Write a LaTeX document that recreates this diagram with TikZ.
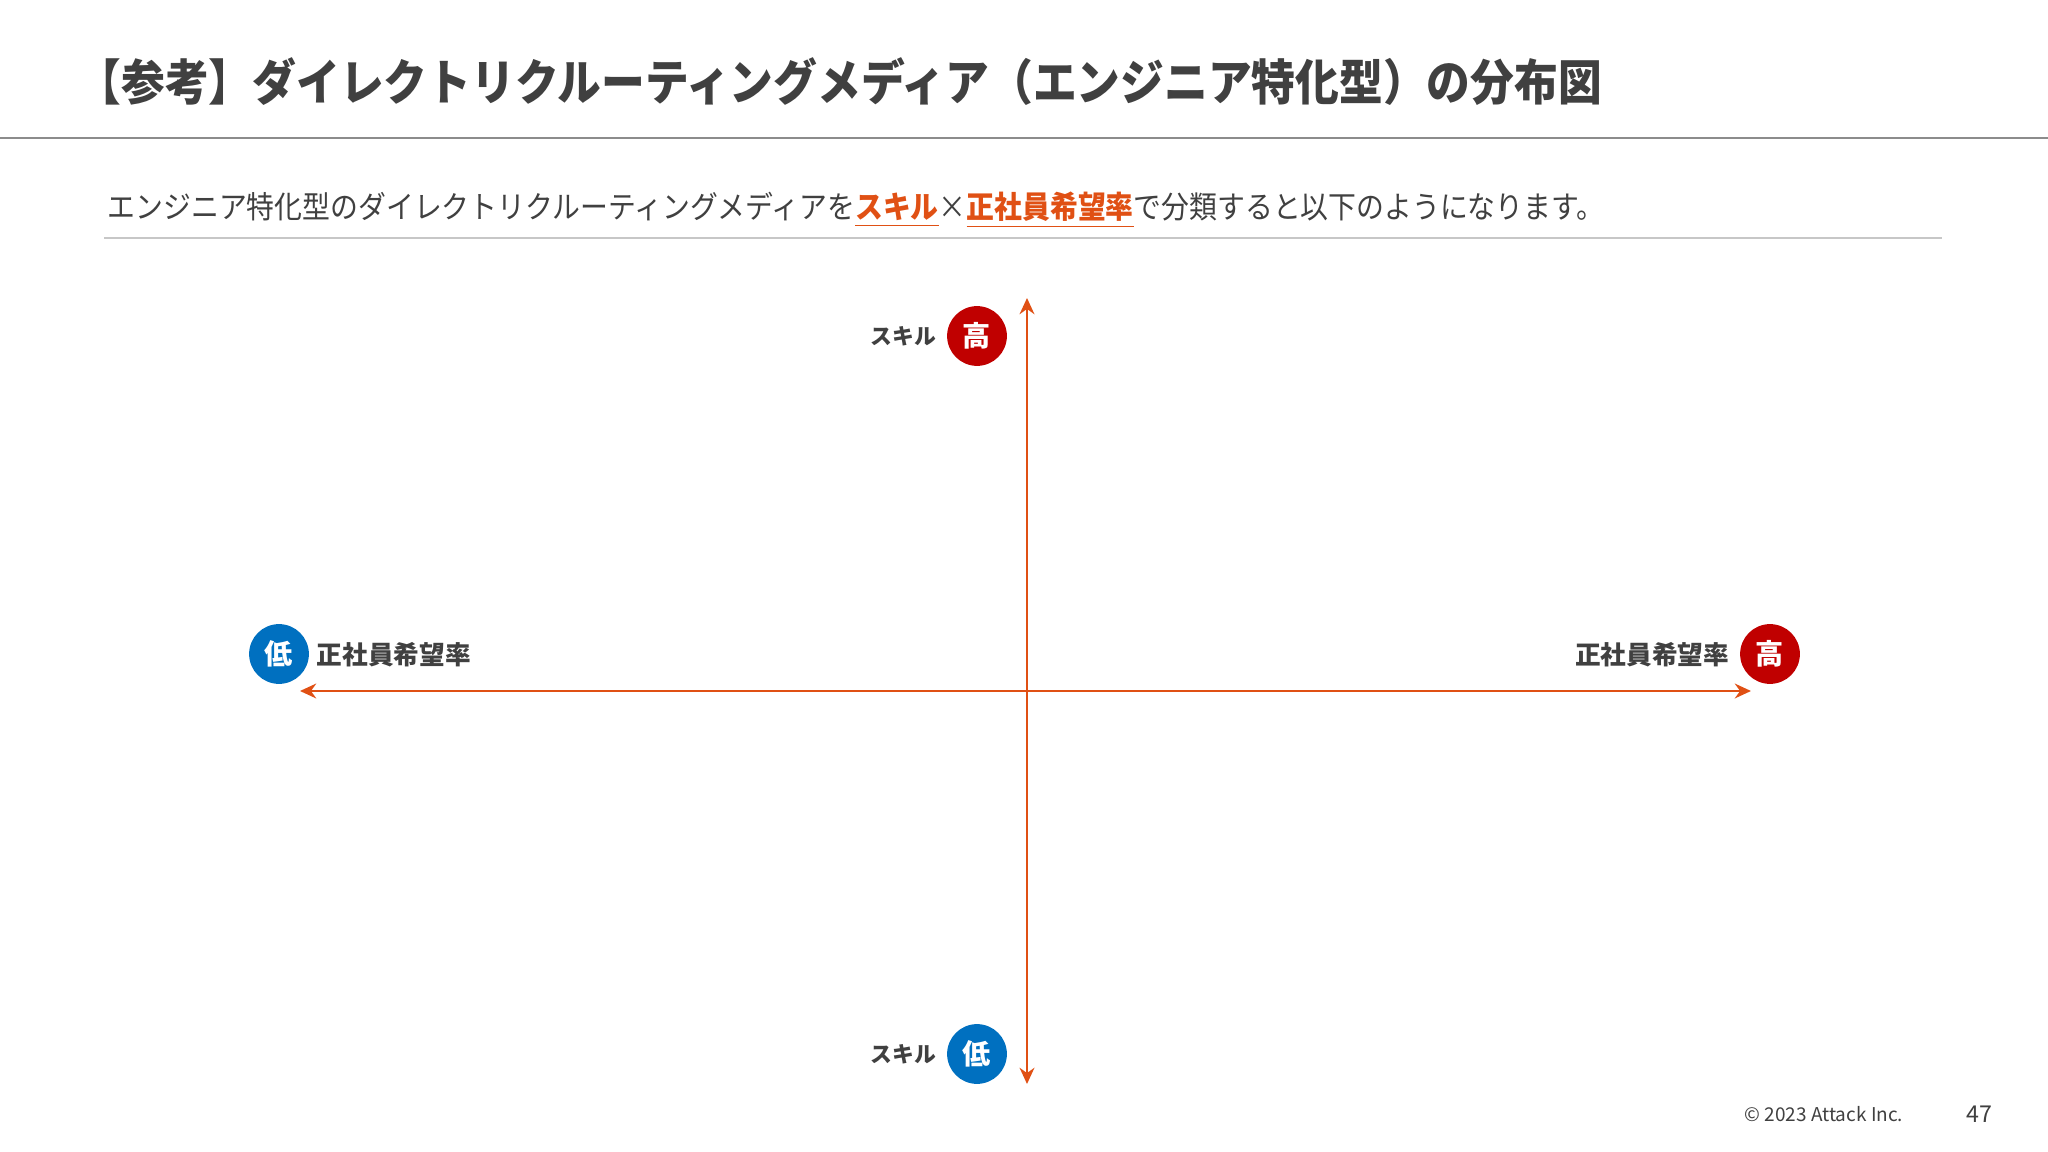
\documentclass[tikz,border=0pt]{standalone}
\usepackage{fontspec}
\usetikzlibrary{arrows.meta}
\newfontfamily\jpfont{Noto Sans CJK JP}
\newfontfamily\jpnarrow[FakeStretch=0.895]{Noto Sans CJK JP}
\newfontfamily\jplead[FakeStretch=0.90]{Noto Sans CJK JP}
\definecolor{txtgray}{HTML}{404040}
\definecolor{axisorange}{HTML}{E05014}
\definecolor{highred}{HTML}{C00000}
\definecolor{lowblue}{HTML}{0070C0}
\newcommand{\hl}[1]{\textcolor{axisorange}{\bfseries\underline{#1}}}

\begin{document}
\begin{tikzpicture}[x=0.01cm, y=-0.01cm,
    axis/.style={draw=axisorange, line width=0.75pt, {Stealth[length=4.6pt, width=4.2pt]}-{Stealth[length=4.6pt, width=4.2pt]}},
    badge/.style={circle, inner sep=0pt, minimum size=17pt, text=white, font=\jpfont\bfseries\fontsize{8}{8}\selectfont},
    lbl/.style={inner sep=0pt, text=txtgray, font=\jpfont\bfseries\fontsize{6.2}{7}\selectfont},
    lblwide/.style={lbl, font=\jpfont\bfseries\fontsize{7.3}{8}\selectfont}]
    \useasboundingbox (0,0) rectangle (2048,1152);
    % heading
    \node[anchor=west, inner sep=0pt, text=txtgray] (title) at (77,82)
        {\jpnarrow\bfseries\fontsize{13.9}{14}\selectfont 【参考】ダイレクトリクルーティングメディア（エンジニア特化型）の分布図};
    \draw[draw=black!45, line width=0.6pt] (0,138) -- (2048,138);
    \node[anchor=west, inner sep=0pt, text=txtgray] (lead) at (107,210)
        {\jplead\fontsize{8.8}{9}\selectfont エンジニア特化型のダイレクトリクルーティングメディアを\hl{スキル}×\hl{正社員希望率}で分類すると以下のようになります。};
    \draw[draw=black!22, line width=0.5pt] (104,238) -- (1942,238);
    % axes
    \coordinate (top) at (1027,298);
    \coordinate (bot) at (1027,1084);
    \coordinate (lft) at (300,691);
    \coordinate (rgt) at (1751,691);
    \draw[axis] (bot) -- (top);
    \draw[axis] (lft) -- (rgt);
    % badges
    \node[badge, fill=highred] (skhi) at (977,336) {高};
    \node[lbl, anchor=east] (skhilbl) at (937,336) {スキル};
    \node[badge, fill=lowblue] (sklo) at (977,1054) {低};
    \node[lbl, anchor=east] (sklolbl) at (937,1054) {スキル};
    \node[badge, fill=lowblue] (emlo) at (279,654) {低};
    \node[lblwide, anchor=west] (emlolbl) at (316,655) {正社員希望率};
    \node[badge, fill=highred] (emhi) at (1770,654) {高};
    \node[lblwide, anchor=east] (emhilbl) at (1730,655) {正社員希望率};
    % footer
    \node[anchor=west, inner sep=0pt, text=txtgray, font=\jpfont\fontsize{5.4}{6}\selectfont] (copy) at (1744,1114) {© 2023 Attack Inc.};
    \node[inner sep=0pt, text=txtgray, font=\jpfont\fontsize{6.6}{7}\selectfont] (page) at (1979,1114) {47};
\end{tikzpicture}
\end{document}
